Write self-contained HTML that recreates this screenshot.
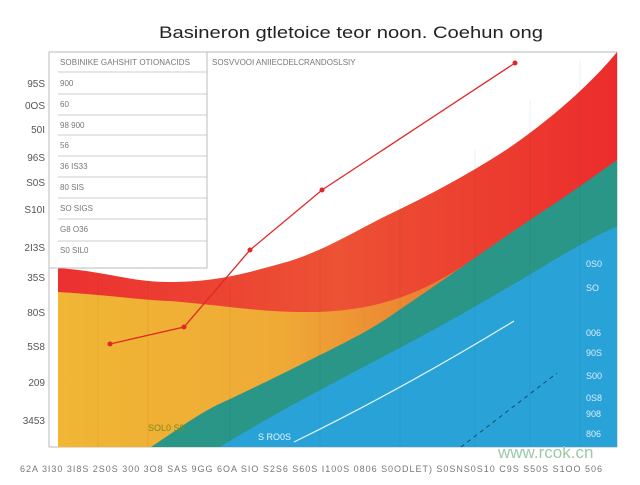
<!DOCTYPE html>
<html><head><style>
body{margin:0;background:#fff;width:640px;height:480px;overflow:hidden;font-family:"Liberation Sans",sans-serif}
</style></head><body>
<svg width="640" height="480" xmlns="http://www.w3.org/2000/svg">
<defs>
<linearGradient id="yo" x1="0" x2="1" y1="0" y2="0">
<stop offset="0" stop-color="#f0b634"/><stop offset="0.4" stop-color="#efaa36"/><stop offset="0.7" stop-color="#eb7a32"/><stop offset="1" stop-color="#ea6a30"/></linearGradient>
<linearGradient id="rd" x1="0" x2="1" y1="0" y2="0">
<stop offset="0" stop-color="#ec3030"/><stop offset="0.5" stop-color="#ec5234"/><stop offset="1" stop-color="#ec2c2c"/></linearGradient>
</defs>
<text x="159" y="38" font-size="17" fill="#222" textLength="384" lengthAdjust="spacingAndGlyphs">Basineron gtletoice teor noon. Coehun ong</text>
<rect x="49" y="52" width="568" height="395" fill="none" stroke="#bbb"/>
<path d="M58,268 C110,272 130,282 170,282 C220,282 250,272 290,261 C330,248 360,228 392,213 C440,190 475,170 506,150 C550,120 590,85 617,52 L617,447 L58,447 Z" fill="url(#rd)"/>
<path d="M58,292 C110,295 140,300 170,301 C220,305 260,312 300,312 C360,313 400,300 430,285 C455,272 470,262 486,250 L617,447 L58,447 Z" fill="url(#yo)"/>
<path d="M151,447 C180,428 200,412 228,400 C260,385 290,370 320,355 C350,340 370,330 392,315 C420,296 455,272 486,250 C515,230 540,213 560,200 C585,183 600,172 617,160 L617,447 Z" fill="#2a9688"/>
<path d="M220,447 C280,410 330,385 392,352 C430,332 470,310 500,292 C530,275 550,262 571,250 C590,240 600,233 617,227 L617,447 Z" fill="#29a2d8"/>
<g stroke="#000" stroke-opacity="0.05">
<line x1="98" y1="280" x2="98" y2="447"/><line x1="148" y1="280" x2="148" y2="447"/><line x1="230" y1="280" x2="230" y2="447"/><line x1="320" y1="250" x2="320" y2="447"/><line x1="400" y1="200" x2="400" y2="447"/><line x1="475" y1="150" x2="475" y2="447"/><line x1="530" y1="100" x2="530" y2="447"/><line x1="580" y1="60" x2="580" y2="447"/>
</g>
<rect x="49" y="52" width="158" height="216" fill="#fff" stroke="#bbb"/>
<g stroke="#ccc">
<line x1="58" y1="72" x2="207" y2="72"/><line x1="58" y1="94" x2="207" y2="94"/><line x1="58" y1="115" x2="207" y2="115"/><line x1="58" y1="135" x2="207" y2="135"/><line x1="58" y1="156" x2="207" y2="156"/><line x1="58" y1="177" x2="207" y2="177"/><line x1="58" y1="198" x2="207" y2="198"/><line x1="58" y1="219" x2="207" y2="219"/><line x1="58" y1="241" x2="207" y2="241"/>
</g>
<g font-size="8" fill="#777">
<text x="60" y="65" textLength="130">SOBINIKE GAHSHIT OTIONACIDS</text>
<text x="212" y="65">SOSVVOOI ANIIECDELCRANDOSLSIY</text>
<text x="60" y="86">900</text><text x="60" y="107">60</text><text x="60" y="128">98 900</text>
<text x="60" y="148">56</text><text x="60" y="169">36 IS33</text><text x="60" y="190">80 SIS</text>
<text x="60" y="211">SO SIGS</text><text x="60" y="232">G8 O36</text><text x="60" y="253">S0 SIL0</text>
</g>
<g font-size="10" fill="#555" text-anchor="end">
<text x="45" y="87">95S</text><text x="45" y="109">0OS</text><text x="45" y="133">50I</text><text x="45" y="161">96S</text><text x="45" y="186">S0S</text><text x="45" y="213">S10I</text><text x="45" y="251">2I3S</text><text x="45" y="281">35S</text><text x="45" y="316">80S</text><text x="45" y="350">5S8</text><text x="45" y="386">209</text><text x="45" y="424">3453</text>
</g>
<g font-size="9" fill="#dceefa">
<text x="586" y="267">0S0</text><text x="586" y="291">SO</text><text x="586" y="336">006</text><text x="586" y="356">90S</text><text x="586" y="379">S00</text><text x="586" y="401">0S8</text><text x="586" y="417">908</text><text x="586" y="437">806</text>
</g>
<text x="148" y="431" font-size="9" fill="#7a8a1a">SOL0 S9</text>
<text x="258" y="440" font-size="9" fill="#e8f4fa">S RO0S</text>
<polyline points="110,344 184,327 250,250 322,190 515,63" fill="none" stroke="#e02828" stroke-width="1.3"/>
<g fill="#e02828"><circle cx="110" cy="344" r="2.5"/><circle cx="184" cy="327" r="2.5"/><circle cx="250" cy="250" r="2.5"/><circle cx="322" cy="190" r="2.5"/><circle cx="515" cy="63" r="2.5"/></g>
<path d="M294,442 C380,400 450,360 514,321" fill="none" stroke="#e8f6fb" stroke-width="1.2"/>
<line x1="461" y1="447" x2="557" y2="373" stroke="#1a4a6a" stroke-width="1" stroke-dasharray="4,4"/>
<text x="498" y="458" font-size="17" fill="#9cc9a8">www.rcok.cn</text>
<text x="20" y="472" font-size="9" fill="#777" textLength="582">62A 3I30 3I8S 2S0S 300 3O8 SAS 9GG 6OA SIO S2S6 S60S I100S 0806 S0ODLET) S0SNS0S10 C9S S50S S1OO 506</text>
</svg>
</body></html>
